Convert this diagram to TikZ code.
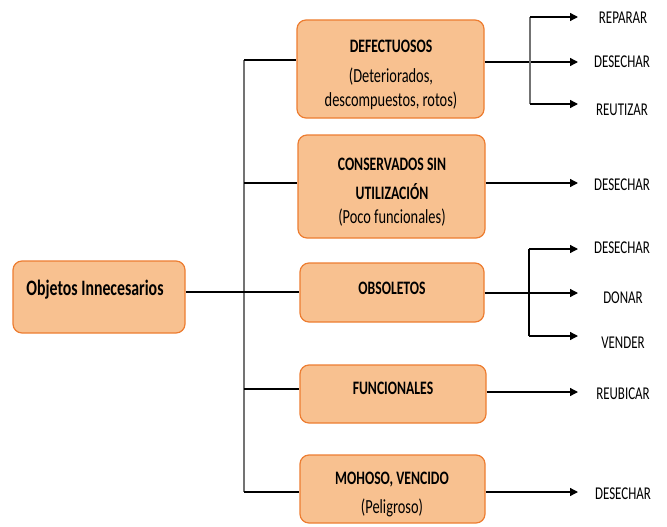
\documentclass[tikz,border=0pt]{standalone}
\usepackage{fontspec}
\setmainfont{Carlito}[FakeStretch=0.72]
\usetikzlibrary{arrows.meta}
\definecolor{boxfill}{HTML}{F8C190}
\definecolor{boxdraw}{HTML}{ED7D31}
\begin{document}
\begin{tikzpicture}[x=1pt,y=-1pt,
  catbox/.style={draw=boxdraw,fill=boxfill,line width=1.2pt,rounded corners=9pt,inner sep=0pt},
  head/.style={font=\fontsize{19}{22}\selectfont\bfseries,inner sep=0pt},
  sub/.style={font=\fontsize{20}{23}\selectfont,inner sep=0pt},
  lab/.style={font=\fontsize{18}{21}\selectfont,inner sep=0pt},
  link/.style={line width=1.3pt,black},
  trunk/.style={line width=1.3pt,black!55},
  arr/.style={line width=1.3pt,black,-{Triangle[length=8pt,width=8pt]}}]
\useasboundingbox (0,0) rectangle (667,527);
% boxes
\node[catbox,minimum width=172pt,minimum height=72pt] (mainB) at (99,297) {};
\node[font=\fontsize{22}{26}\selectfont\bfseries,inner sep=0pt] (mainT) at (95,290) {Objetos Innecesarios};
\node[catbox,minimum width=187pt,minimum height=98pt] (defB) at (390.5,69) {};
\node[head] (defT1) at (391,46) {DEFECTUOSOS};
\node[sub] (defT2) at (391,77) {(Deteriorados,};
\node[sub] (defT3) at (391,101) {descompuestos, rotos)};
\node[catbox,minimum width=187pt,minimum height=103pt] (conB) at (391.5,186.5) {};
\node[head] (conT1) at (392,164) {CONSERVADOS SIN};
\node[head] (conT2) at (392,192) {UTILIZACIÓN};
\node[sub] (conT3) at (392,218) {(Poco funcionales)};
\node[catbox,minimum width=184pt,minimum height=59pt] (obsB) at (392,292.5) {};
\node[head] (obsT) at (392,288) {OBSOLETOS};
\node[catbox,minimum width=186pt,minimum height=58pt] (funB) at (393,394) {};
\node[head] (funT) at (393,388) {FUNCIONALES};
\node[catbox,minimum width=185pt,minimum height=68pt] (mohB) at (392.5,489) {};
\node[head] (mohT) at (392,480) {MOHOSO, VENCIDO};
\node[sub] (mohT2) at (392,508) {(Peligroso)};
% trunk
\coordinate (tTop) at (244,60);
\coordinate (tCon) at (244,183);
\coordinate (tFun) at (244,389);
\coordinate (tBot) at (244,492);
\draw[trunk] (tTop) -- (tBot);
\draw[link] (tTop) -- (tTop -| defB.west);
\draw[link] (tCon) -- (tCon -| conB.west);
\draw[link] (mainB.east |- 0,292) -- (obsB.west |- 0,292);
\draw[link] (tFun) -- (tFun -| funB.west);
\draw[link] (tBot) -- (tBot -| mohB.west);
% right labels
\node[lab] (rep) at (623,18) {REPARAR};
\node[lab] (des1) at (622,62) {DESECHAR};
\node[lab] (reu) at (622,110) {REUTIZAR};
\node[lab] (des2) at (622,185) {DESECHAR};
\node[lab] (des3) at (622,248) {DESECHAR};
\node[lab] (don) at (623,298) {DONAR};
\node[lab] (ven) at (623,343) {VENDER};
\node[lab] (reub) at (623,394) {REUBICAR};
\node[lab] (des4) at (623,494) {DESECHAR};
% defectuosos outputs
\coordinate (dA) at (578,62);
\coordinate (dV1) at (530,17);
\coordinate (dV2) at (530,104);
\draw[arr] (defB.east |- dA) -- (dA);
\draw[trunk] (dV1) -- (dV2);
\draw[arr] (dV1) -- (dV1 -| dA);
\draw[arr] (dV2) -- (dV2 -| dA);
% conservados
\coordinate (cA) at (578,183);
\draw[arr] (conB.east |- cA) -- (cA);
% obsoletos
\coordinate (oA) at (578,293);
\coordinate (oV1) at (529,249);
\coordinate (oV2) at (529,336);
\draw[arr] (obsB.east |- oA) -- (oA);
\draw[link] (oV1) -- (oV2);
\draw[arr] (oV1) -- (oV1 -| oA);
\draw[arr] (oV2) -- (oV2 -| oA);
% funcionales
\coordinate (fA) at (578,392);
\draw[arr] (funB.east |- fA) -- (fA);
% mohoso
\coordinate (mA) at (578,492);
\draw[arr] (mohB.east |- mA) -- (mA);
\end{tikzpicture}
\end{document}
